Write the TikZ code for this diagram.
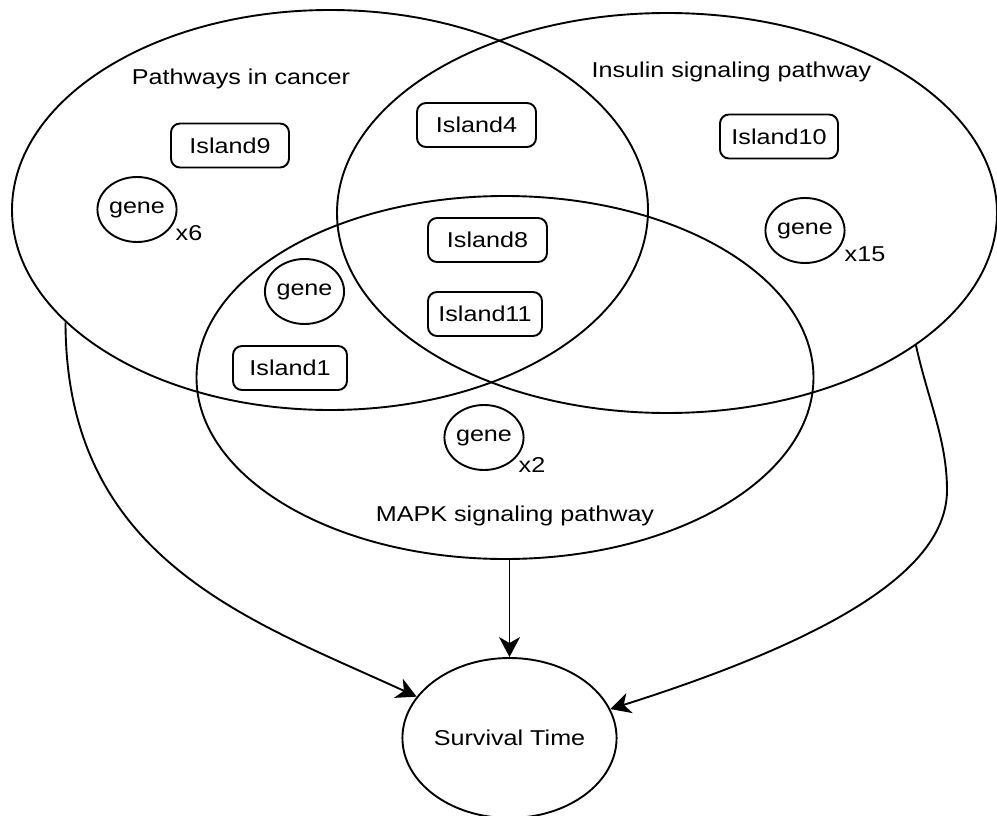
\documentclass[tikz,border=0pt]{standalone}
\usepackage{fontspec}
\setmainfont{Liberation Sans}[FakeStretch=1.17]
\usetikzlibrary{shapes.geometric,arrows.meta}
\begin{document}
\begin{tikzpicture}[x=1pt,y=-1pt,
  every node/.style={font=\fontsize{21.5}{26}\selectfont},
  set/.style={draw, ellipse, line width=1.9pt, inner sep=0pt},
  island/.style={draw, rounded corners=9pt, line width=1.9pt, minimum height=44pt, inner sep=0pt},
  genenode/.style={draw, ellipse, line width=1.9pt, minimum width=78pt, minimum height=65pt, inner sep=0pt},
  lbl/.style={inner sep=0pt},
  link/.style={line width=1.9pt, -{Stealth[length=20pt,width=21pt,inset=6pt]}}
]
\useasboundingbox (0,0) rectangle (997,816);

% pathway sets
\node[set, minimum width=636pt, minimum height=400pt] (pc) at (330,210) {};
\node[set, minimum width=660pt, minimum height=400pt] (ins) at (667,213) {};
\node[set, minimum width=617pt, minimum height=363pt] (mapk) at (505,377.5) {};
\node[set, minimum width=192pt, minimum height=160pt] (surv) at (509.5,738) {Survival Time};

% set titles
\node[lbl] (tpc) at (241,79) {Pathways in cancer};
\node[lbl] (tins) at (731.5,72) {Insulin signaling pathway};
\node[lbl] (tmapk) at (515,516) {MAPK signaling pathway};

% islands
\node[island, minimum width=118pt] (i9) at (230,145.5) {Island9};
\node[island, minimum width=119pt] (i4) at (476.5,125) {Island4};
\node[island, minimum width=118pt] (i10) at (779,136.5) {Island10};
\node[island, minimum width=119pt] (i8) at (487.5,240) {Island8};
\node[island, minimum width=114pt] (i11) at (485,314) {Island11};
\node[island, minimum width=114pt] (i1) at (290,368) {Island1};

% genes
\node[genenode] (g6) at (137,209.5) {gene};
\node[lbl] (x6) at (189,233) {x6};
\node[genenode] (gm) at (304.5,291.5) {gene};
\node[genenode] (g15) at (805,230.5) {gene};
\node[lbl] (x15) at (865,254) {x15};
\node[genenode] (g2) at (484,437.5) {gene};
\node[lbl] (x2) at (532,465) {x2};

% connectors
\coordinate (rbend) at (947,490);
\draw[link] (pc.203) .. controls (66,560) and (250,620) .. (surv.156);
\draw[link] (surv.north |- mapk.south) -- (surv.north);
\draw[link] (ins.-28.5) .. controls (928,400) and (947,440) .. (rbend) .. controls (947,560) and (860,630) .. (surv.16);
\end{tikzpicture}
\end{document}
